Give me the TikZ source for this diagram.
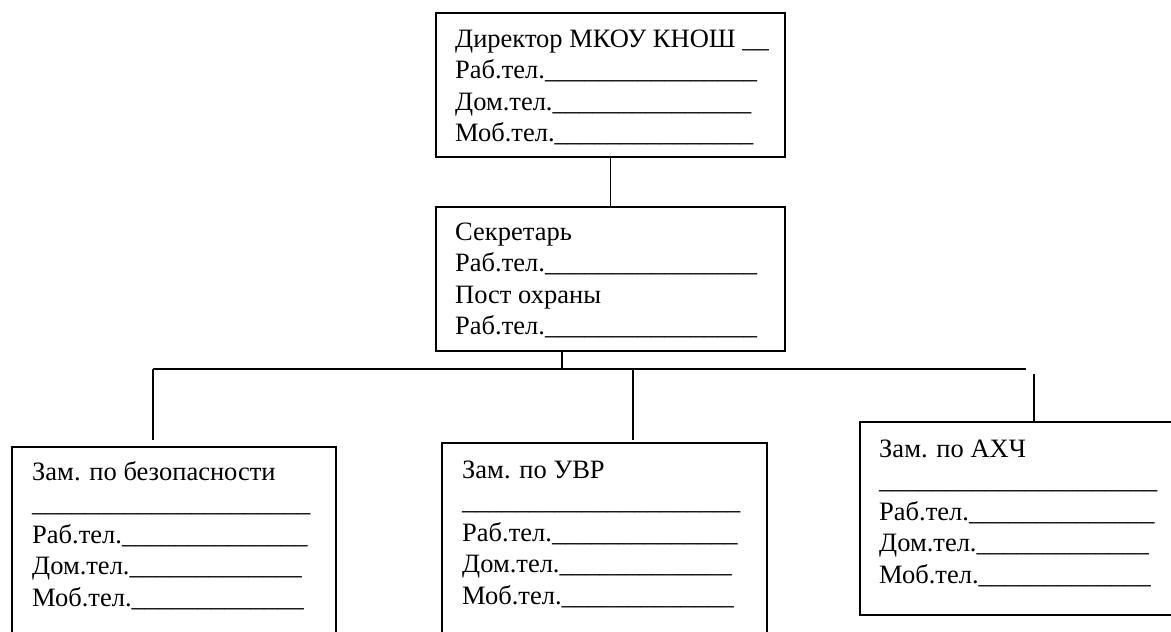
\documentclass[tikz,border=0pt]{standalone}
\usepackage{fontspec}
\setmainfont{Liberation Serif}
\ExplSyntaxOn
\NewDocumentCommand\us{m}{\prg_replicate:nn{#1}{\textunderscore}}
\ExplSyntaxOff
\tikzset{
  box/.style={draw, line width=2pt, rectangle, anchor=north west, inner sep=0pt},
  txt/.style={anchor=north west, inner sep=0pt, align=left, font=\fontsize{26.5}{31.5}\selectfont},
  link/.style={line width=1.8pt}
}
\begin{document}
\begin{tikzpicture}[x={(1pt,0)}, y={(0,-1pt)}]
\useasboundingbox (0,0) rectangle (1171,632);
\clip (0,0) rectangle (1171,632);
% boxes
\node[box, minimum width=349pt, minimum height=144pt] (dir) at (435,12) {};
\node[box, minimum width=349pt, minimum height=144pt] (sec) at (435,206) {};
\node[box, minimum width=324pt, minimum height=210pt] (lft) at (11,446) {};
\node[box, minimum width=325pt, minimum height=214pt] (mid) at (441,442) {};
\node[box, minimum width=313pt, minimum height=193pt] (rgt) at (859,421) {};
% texts
\node[txt] (tdir) at (455,{47-22.05}) {\strut Директор МКОУ КНОШ \us{2}\\Раб.тел.\us{16}\\Дом.тел.\us{15}\\Моб.тел.\us{15}};
\node[txt] (tsec) at (455,{240-22.05}) {\strut Секретарь\\Раб.тел.\us{16}\\Пост охраны\\Раб.тел.\us{16}};
\node[txt] (tlft) at (32,{480-22.05}) {\strut Зам. по безопасности\\\us{21}\\Раб.тел.\us{14}\\Дом.тел.\us{13}\\Моб.тел.\us{13}};
\node[txt] (tmid) at (462,{478-22.05}) {\strut Зам. по УВР\\\us{21}\\Раб.тел.\us{14}\\Дом.тел.\us{13}\\Моб.тел.\us{13}};
\node[txt] (trgt) at (879,{457-22.05}) {\strut Зам. по АХЧ\\\us{21}\\Раб.тел.\us{14}\\Дом.тел.\us{13}\\Моб.тел.\us{13}};
% connector points
\coordinate (j) at (562,369);
\coordinate (hl) at (153,369);
\coordinate (hr) at (1026,369);
\coordinate (hm) at (633,369);
\coordinate (rs) at (1034,374);
% connectors
\draw[link] (dir.south) -- (sec.north);
\draw[link] (sec.south -| j) -- (j);
\draw[link] (hl) -- (hr);
\draw[link, shorten >=6pt] (hl) -- (lft.north -| hl);
\draw[link, shorten >=2pt] (hm) -- (mid.north -| hm);
\draw[link] (rs) -- (rgt.north -| rs);
\end{tikzpicture}
\end{document}
